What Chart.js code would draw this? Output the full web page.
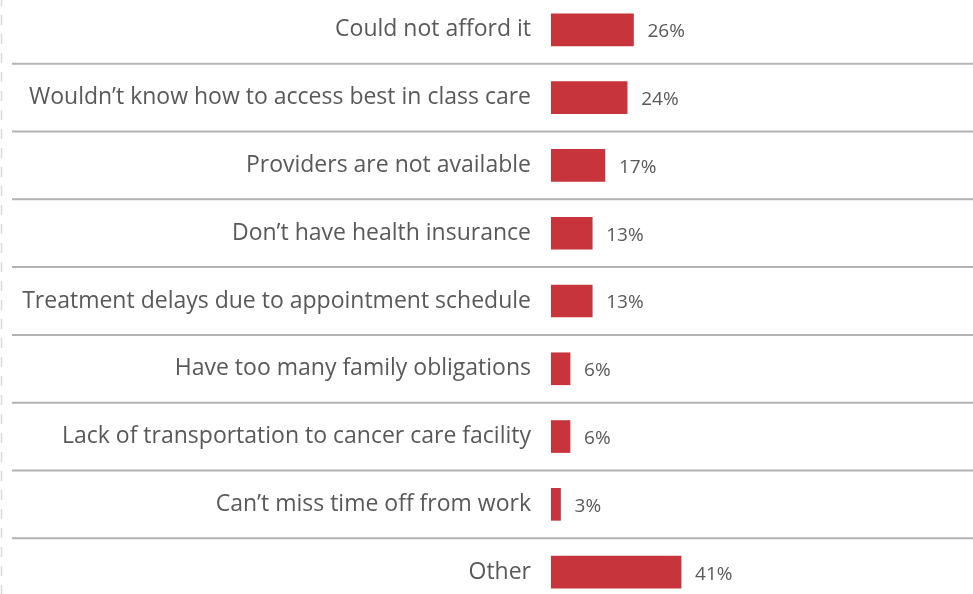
<!DOCTYPE html>
<html>
<head>
<meta charset="utf-8">
<script src="https://cdn.jsdelivr.net/npm/chart.js@4/dist/chart.umd.min.js"></script>
<style>
    html, body { margin: 0; padding: 0; background: #ffffff; }
    #wrap { width: 973px; height: 594px; position: relative; overflow: hidden; }
    /* canvas a bit taller than the page so the first and last rows sit near the edges */
    #barrierChart { position: absolute; left: 0; top: -4px; }
</style>
</head>
<body>
<div id="wrap"><canvas id="barrierChart" width="973" height="610"></canvas></div>
<script>
// survey answers, top to bottom
const reasons = [
    'Could not afford it',
    'Wouldn\u2019t know how to access best in class care',
    'Providers are not available',
    'Don\u2019t have health insurance',
    'Treatment delays due to appointment schedule',
    'Have too many family obligations',
    'Lack of transportation to cancer care facility',
    'Can\u2019t miss time off from work',
    'Other'
];
const shares = [26, 24, 17, 13, 13, 6, 6, 3, 41];

const TEXT = '#595959';
const BAR = '#C7343B';
const RULE = '#B3B3B3';
const FONT = '"Open Sans"';

// row separators across the full width + dashed edge on the left
const separators = {
    id: 'separators',
    beforeDatasetsDraw(chart) {
        const { ctx, scales: { y } } = chart;
        ctx.save();
        ctx.strokeStyle = RULE;
        ctx.lineWidth = 2;
        for (let i = 0; i < reasons.length - 1; i++) {
            const mid = (y.getPixelForTick(i) + y.getPixelForTick(i + 1)) / 2;
            ctx.beginPath();
            ctx.moveTo(12, mid);
            ctx.lineTo(chart.width, mid);
            ctx.stroke();
        }
        ctx.strokeStyle = '#DADADA';
        ctx.lineWidth = 1.5;
        ctx.setLineDash([10, 9]);
        ctx.beginPath();
        ctx.moveTo(1.5, 0);
        ctx.lineTo(1.5, chart.height);
        ctx.stroke();
        ctx.restore();
    }
};

const valueLabels = {
    id: 'valueLabels',
    afterDatasetsDraw(chart) {
        const { ctx } = chart;
        const meta = chart.getDatasetMeta(0);
        ctx.save();
        ctx.fillStyle = TEXT;
        ctx.font = '19px ' + FONT;
        ctx.textBaseline = 'middle';
        ctx.textAlign = 'left';
        meta.data.forEach((bar, i) => {
            ctx.fillText(shares[i] + '%', bar.x + 14, bar.y + 2);
        });
        ctx.restore();
    }
};

const ctx = document.getElementById('barrierChart');
new Chart(ctx, {
    type: 'bar',
    data: {
        labels: reasons,
        datasets: [{
            data: shares,
            backgroundColor: BAR,
            borderWidth: 0,
            barThickness: 32
        }]
    },
    options: {
        indexAxis: 'y',
        responsive: false,
        animation: false,
        devicePixelRatio: 1,
        layout: { padding: 0 },
        plugins: {
            legend: { display: false },
            tooltip: { enabled: false }
        },
        scales: {
            x: {
                display: false,
                min: 0,
                max: 133
            },
            y: {
                afterFit(scale) {
                    scale.width = 551;
                    // labels sit mid-row, no overhang room needed
                    scale.paddingTop = 0;
                    scale.paddingBottom = 0;
                },
                grid: { display: false, drawTicks: false },
                border: { display: false },
                ticks: {
                    color: TEXT,
                    padding: 20,
                    font: { family: FONT, size: 23 }
                }
            }
        }
    },
    plugins: [separators, valueLabels]
});
</script>
</body>
</html>
